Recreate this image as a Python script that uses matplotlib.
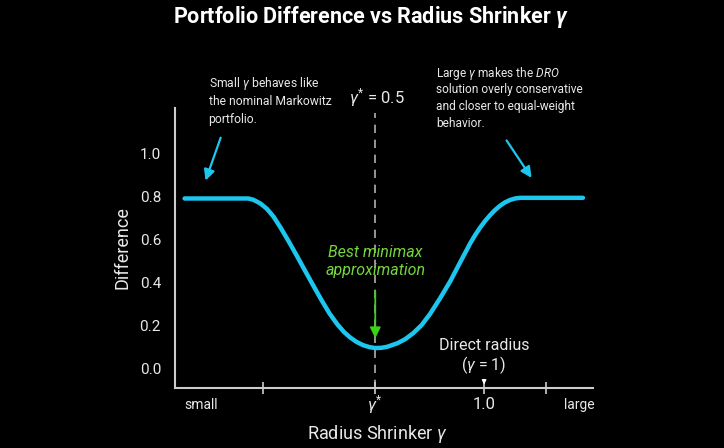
import matplotlib
matplotlib.use("Agg")
import matplotlib.pyplot as plt

plt.rcParams['font.family'] = ['Roboto', 'DejaVu Sans']
plt.rcParams['mathtext.fontset'] = 'custom'
plt.rcParams['mathtext.rm'] = 'Roboto'
plt.rcParams['mathtext.it'] = 'Roboto:italic'
plt.rcParams['mathtext.bf'] = 'Roboto:bold:italic'

# curve (x in gamma units, y = difference)
gamma = [-0.376, -0.119, -0.083, -0.060, -0.028, 0.003, 0.033, 0.064, 0.102, 0.141,
         0.179, 0.214, 0.252, 0.289, 0.326, 0.356, 0.385, 0.415, 0.445, 0.475,
         0.500, 0.528, 0.555, 0.601, 0.637, 0.674, 0.713, 0.752, 0.798, 0.844,
         0.890, 0.936, 0.959, 0.982, 1.005, 1.028, 1.050, 1.073, 1.096, 1.119,
         1.142, 1.165, 1.257, 1.454]
difference = [0.789, 0.789, 0.789, 0.783, 0.766, 0.740, 0.704, 0.655, 0.590, 0.520,
              0.450, 0.386, 0.318, 0.255, 0.203, 0.168, 0.142, 0.121, 0.106, 0.097,
              0.093, 0.094, 0.099, 0.115, 0.134, 0.162, 0.200, 0.252, 0.325, 0.403,
              0.492, 0.580, 0.619, 0.654, 0.685, 0.712, 0.735, 0.755, 0.771, 0.782,
              0.789, 0.792, 0.792, 0.792]

gamma_star = 0.5
yticks = [0.0, 0.2, 0.4, 0.6, 0.8, 1.0]
xticks = [-0.014, gamma_star, 1.0, 1.284]
xlab_pos = [-0.30, gamma_star, 1.0, 1.436]
xlab_text = ['small', r'$\gamma^{*}$', '1.0', 'large']
xlab_size = [10, 12, 12, 10]

left_note = ['Small $\\gamma$ behaves like', 'the nominal Markowitz', 'portfolio.']
right_note = ['Large $\\gamma$ makes the $\\mathit{DRO}$', 'solution overly conservative',
              'and closer to equal-weight', 'behavior.']

fg = '#e8e8e8'
cyan = '#1cc6ef'

fig = plt.figure(figsize=(7.24, 4.48), dpi=100, facecolor='black')
ax = fig.add_axes([0.2417, 0.1339, 0.5773, 0.625], facecolor='black')

ax.plot(gamma, difference, color=cyan, lw=3.2, solid_capstyle='round',
        solid_joinstyle='round', zorder=3)
ax.axvline(gamma_star, ymax=0.982, color='#b0b0b0', lw=1.2, ls=(0, (5, 4)), zorder=1)

ax.set_xlim(-0.42, 1.5)
ax.set_ylim(-0.093, 1.21)
ax.set_yticks(yticks)
ax.set_yticklabels(['%.1f' % v for v in yticks])
ax.set_xticks(xticks)
ax.set_xticklabels([])
ax.tick_params(axis='y', length=0, pad=10, colors=fg, labelsize=11)
ax.tick_params(axis='x', direction='inout', length=8, width=1.2, color='#cccccc')

for s in ['top', 'right']:
    ax.spines[s].set_visible(False)
for s in ['left', 'bottom']:
    ax.spines[s].set_color('#cccccc')
    ax.spines[s].set_linewidth(1.5)

for xp, t, fs in zip(xlab_pos, xlab_text, xlab_size):
    ax.text(xp, -0.172, t, color=fg, fontsize=fs, ha='center', va='center')

ax.set_ylabel('Difference', color=fg, fontsize=13)
ax.yaxis.set_label_coords(-0.103, 0.5)
ax.set_xlabel(r'Radius Shrinker $\gamma$', color=fg, fontsize=13)
ax.xaxis.set_label_coords(0.483, -0.125)

fig.text(0.512, 0.963, r'Portfolio Difference vs Radius Shrinker $\mathbf{\gamma}$',
         color='white', fontsize=15.5, fontweight='bold', ha='center', va='center')

# gamma* label
ax.text(gamma_star + 0.01, 1.26, r'$\gamma^{*}$ = 0.5', color=fg, fontsize=12,
        ha='center', va='center')

# left note, one text per line so the spacing stays even
for i, line in enumerate(left_note):
    ax.text(-0.266, 1.326 - 0.084 * i, line, color=fg, fontsize=8.7, ha='left', va='center')
ax.annotate('', xy=(-0.284, 0.86), xytext=(-0.206, 1.084),
            arrowprops=dict(arrowstyle='-|>', color=cyan, lw=1.6, mutation_scale=16))

# right note
for i, line in enumerate(right_note):
    ax.text(0.78, 1.372 - 0.078 * i, line, color=fg, fontsize=8.6, ha='left', va='center')
ax.annotate('', xy=(1.225, 0.874), xytext=(1.096, 1.07),
            arrowprops=dict(arrowstyle='-|>', color=cyan, lw=1.6, mutation_scale=16))

# best minimax
ax.text(gamma_star, 0.495, 'Best minimax\napproximation', color='#74d63c', fontsize=11.5,
        style='italic', ha='center', va='center', linespacing=1.3)
ax.annotate('', xy=(gamma_star, 0.126), xytext=(gamma_star, 0.372),
            arrowprops=dict(arrowstyle='-|>', color='#3ad316', lw=1.3, mutation_scale=16))

# direct radius
ax.text(1.0, 0.107, 'Direct radius', color=fg, fontsize=11.5, ha='center', va='center')
ax.text(1.0, 0.014, '($\\gamma$ = 1)', color=fg, fontsize=11.5, ha='center', va='center')
ax.annotate('', xy=(1.0, -0.09), xytext=(1.0, -0.04),
            arrowprops=dict(arrowstyle='-|>', color='white', lw=1.0, mutation_scale=6))

fig.savefig('out.png', dpi=100, facecolor='black')
